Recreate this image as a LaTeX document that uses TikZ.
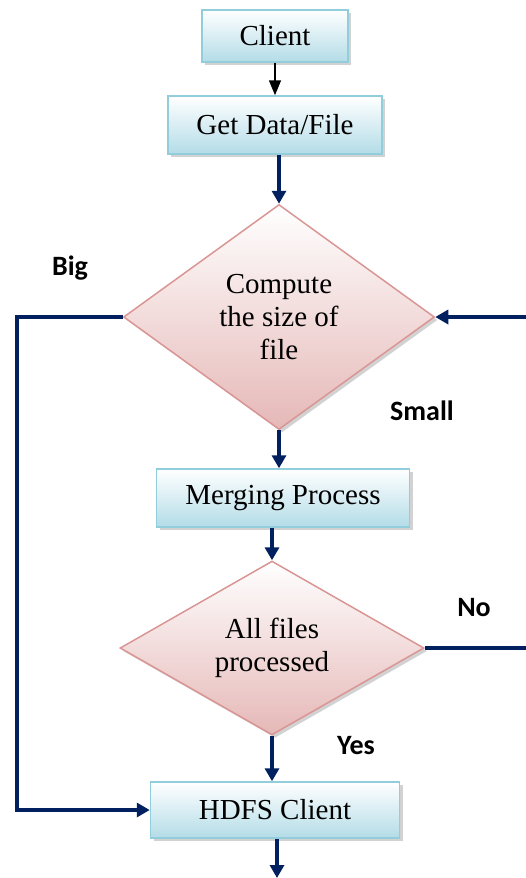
\documentclass[tikz,border=0pt]{standalone}
\usepackage{fontspec}
\setmainfont{Liberation Serif}
\newfontfamily\labelfont{Carlito}
\usepackage{tikz}
\usetikzlibrary{shapes.geometric,arrows.meta,shadows}

\definecolor{navy}{HTML}{002060}
\definecolor{boxline}{HTML}{92CDDC}
\definecolor{boxbot}{HTML}{B3DCE7}
\definecolor{dialine}{HTML}{D99694}
\definecolor{diabot}{HTML}{E5B8B7}

\begin{document}
\begin{tikzpicture}[x=1pt,y=-1pt,
    stepbox/.style={draw=boxline,line width=1.5pt,top color=white,bottom color=boxbot,
      drop shadow={shadow xshift=3pt,shadow yshift=-3pt,fill=gray!70},
      inner sep=0pt,font=\fontsize{29}{33.6}\selectfont},
    decide/.style={diamond,draw=dialine,line width=1.5pt,top color=white,bottom color=diabot,
      drop shadow={shadow xshift=3pt,shadow yshift=-3pt,fill=gray!70},
      inner sep=0pt,align=center,font=\fontsize{29}{33}\selectfont},
    flow/.style={draw=navy,line width=3.5pt,-{Triangle[width=14pt,length=13pt]}},
    tag/.style={font=\labelfont\bfseries\fontsize{28}{32}\selectfont}]
  \useasboundingbox (0,0) rectangle (526,878);
  % boxes and decisions
  \node[stepbox,minimum width=146pt,minimum height=52pt] (client) at (275,36) {Client};
  \node[stepbox,minimum width=214pt,minimum height=58pt] (getdata) at (275,125) {Get Data/File};
  \node[decide,minimum width=311pt,minimum height=225pt] (size) at (279,317) {Compute\\the size of\\file};
  \node[stepbox,minimum width=253pt,minimum height=58pt] (merge) at (283,498) {Merging Process};
  \node[decide,minimum width=304pt,minimum height=160pt] (allfiles) at (272,648) {All files\\processed};
  \node[stepbox,minimum width=249pt,minimum height=56pt] (hdfs) at (275,810) {HDFS Client};
  % labels
  \node[tag] (bigtxt) at (70,268) {Big};
  \node[tag] (smalltxt) at (422,411) {Small};
  \node[tag] (notxt) at (474,608) {No};
  \node[tag] (yestxt) at (356,746) {Yes};
  % free ends
  \coordinate (leftx) at (17,0);
  \coordinate (rightx) at (526,0);
  \coordinate (outend) at (277,878);
  % connectors
  \draw[line width=1.5pt,-{Triangle[width=12pt,length=15pt]}] (client.south) -- (getdata.north -| client.south);
  \draw[flow] (getdata.south -| size.north) -- (size.north);
  \draw[flow] (size.south) -- (merge.north -| size.south);
  \draw[flow] (merge.south -| allfiles.north) -- (allfiles.north);
  \draw[flow] (allfiles.south) -- (hdfs.north -| allfiles.south);
  \draw[flow] (hdfs.south -| outend) -- (outend);
  \draw[flow] (size.west) -- (size.west -| leftx) |- (hdfs.west);
  \draw[flow] (size.east -| rightx) -- (size.east);
  \draw[draw=navy,line width=3.5pt] (allfiles.east) -- (allfiles.east -| rightx);
\end{tikzpicture}
\end{document}
